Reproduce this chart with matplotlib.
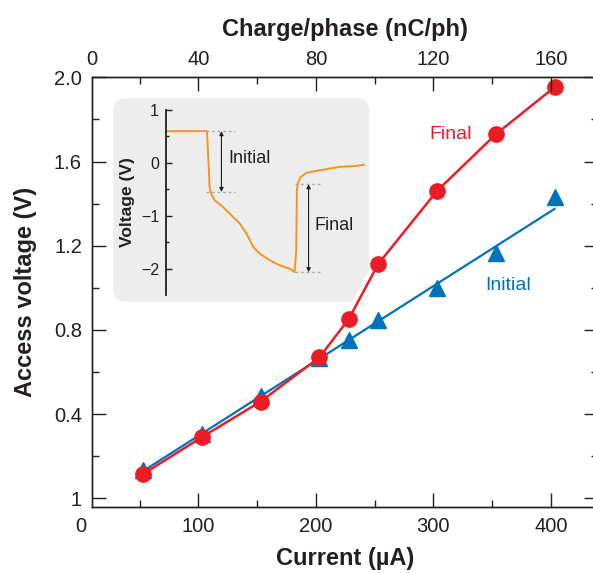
import numpy as np
import matplotlib
matplotlib.use("Agg")
import matplotlib.pyplot as plt
from matplotlib.patches import FancyBboxPatch

plt.rcParams['font.family'] = ['Liberation Sans', 'DejaVu Sans']

# main data
current = [53, 103, 153, 203, 228, 253, 303, 353, 403]
final_v = [0.116, 0.291, 0.460, 0.670, 0.852, 1.113, 1.460, 1.729, 1.953]
initial_v = [0.134, 0.306, 0.487, 0.666, 0.753, 0.848, 0.998, 1.164, 1.430]
initial_fit_x = [53, 403]
initial_fit_y = [0.13, 1.375]

yticks = [0, 0.4, 0.8, 1.2, 1.6, 2.0]
ytick_labels = ['1', '0.4', '0.8', '1.2', '1.6', '2.0']
xticks = [100, 200, 300, 400]
top_ticks = [40, 80, 120, 160]

# inset trace (arbitrary time units)
trace_t = [0, 20.67, 21.35, 22.02, 22.87, 24.57, 28.80, 33.89, 37.28, 40.68, 44.07,
           47.46, 52.54, 57.63, 62.72, 64.92, 65.77, 66.11, 66.62, 67.80, 70.35,
           72.89, 77.98, 84.76, 88.15, 94.93, 100.0]
trace_v = [0.60, 0.60, 0.114, -0.455, -0.594, -0.708, -0.834, -1.024, -1.150, -1.340,
           -1.593, -1.720, -1.846, -1.941, -2.004, -2.068, -1.657, -0.518, -0.391,
           -0.278, -0.202, -0.170, -0.139, -0.094, -0.075, -0.063, -0.037]
init_top, init_bot = 0.60, -0.55
fin_top, fin_bot = -0.404, -2.068

RED = '#ED1C24'
BLUE = '#0072BC'
ORANGE = '#F7941D'
DARK = '#231F20'

W, H = 593, 573
fig = plt.figure(figsize=(W / 100, H / 100), dpi=100)
ax = fig.add_axes([91.7 / W, (H - 507.3) / H, (598 - 91.7) / W, (507.3 - 77.3) / H])
ax.set_xlim(9.3, 440)
ax.set_ylim(-0.042, 2.0)

for s in ax.spines.values():
    s.set_color(DARK)
    s.set_linewidth(1)

ax.set_xticks(xticks)
ax.set_xticks([50, 150, 250, 350], minor=True)
ax.set_yticks(yticks)
ax.set_yticklabels(ytick_labels)
ax.set_yticks(np.arange(0.2, 2.0, 0.4), minor=True)
ax.tick_params(which='both', direction='in', colors=DARK, labelsize=14.5, right=True, width=1)
ax.tick_params(which='major', length=10, pad=7)
ax.tick_params(which='minor', length=5)
ax.annotate('0', xy=(0, 0), xycoords=('data', 'axes fraction'), xytext=(0, -7),
            textcoords='offset points', ha='center', va='top', fontsize=14.5,
            color=DARK, annotation_clip=False)

ax2 = ax.twiny()
ax2.set_xlim(9.3 * 0.4, 440 * 0.4)
ax2.set_xticks(top_ticks)
ax2.set_xticks([20, 60, 100, 140], minor=True)
ax2.tick_params(which='both', direction='in', colors=DARK, labelsize=14.5, width=1)
ax2.tick_params(which='major', length=10, pad=6)
ax2.tick_params(which='minor', length=5)
ax2.annotate('0', xy=(0, 1), xycoords='axes fraction', xytext=(0, 6),
             textcoords='offset points', ha='center', va='bottom', fontsize=14.5,
             color=DARK, annotation_clip=False)
for s in ax2.spines.values():
    s.set_color(DARK)
    s.set_linewidth(1)

ax.set_xlabel('Current (µA)', fontsize=17, fontweight='bold', color=DARK, labelpad=8)
ax.set_ylabel('Access voltage (V)', fontsize=17, fontweight='bold', color=DARK, labelpad=12)
ax2.set_xlabel('Charge/phase (nC/ph)', fontsize=17, fontweight='bold', color=DARK, labelpad=10)

# inset background
bg = FancyBboxPatch((113.3 / W, (H - 301.7) / H), (369.3 - 113.3) / W, (301.7 - 98.3) / H,
                    boxstyle='round,pad=0,rounding_size=0.022', transform=fig.transFigure,
                    facecolor='#EDEDED', edgecolor='none', zorder=1)
ax.add_artist(bg)
bg.set_zorder(1)

# data
ax.plot(initial_fit_x, initial_fit_y, color=BLUE, lw=1.6, zorder=3)
ax.plot(current, initial_v, linestyle='none', marker='^', color=BLUE, ms=12, zorder=4)
ax.plot(current[4:6], final_v[4:6], color='white', lw=7, zorder=2, solid_capstyle='butt')
ax.plot(current, final_v, color=RED, lw=1.8, marker='o', ms=11, zorder=5)

ax.text(315, 1.73, 'Final', color=RED, fontsize=14, ha='center', va='center')
ax.text(363.6, 1.009, 'Initial', color=BLUE, fontsize=14, ha='center', va='center')

# inset axes
ins = fig.add_axes([166.0 / W, (H - 295.0) / H, (365 - 166.0) / W, (295.0 - 110.0) / H])
ins.patch.set_visible(False)
ins.set_zorder(6)
ins.set_xlim(0, 100.5)
ins.set_ylim(-2.5, 1.0)
for k in ['top', 'right', 'bottom']:
    ins.spines[k].set_visible(False)
ins.spines['left'].set_color(DARK)
ins.spines['left'].set_linewidth(1.3)
ins.set_xticks([])
ins.set_yticks([1, 0, -1, -2])
ins.set_yticklabels(['1', '0', '\u22121', '\u22122'])
ins.set_yticks([0.5, -0.5, -1.5], minor=True)
ins.tick_params(which='both', direction='in', colors=DARK, labelsize=11.5, width=1)
ins.tick_params(which='major', length=4, pad=5)
ins.tick_params(which='minor', length=2.5)
ins.set_ylabel('Voltage (V)', fontsize=12.5, fontweight='bold', color=DARK, labelpad=4)

ins.plot(trace_t, trace_v, color=ORANGE, lw=1.4, clip_on=False)
dash = dict(color='#A7A9AC', lw=1, ls=(0, (2, 2)))
ins.plot([20.3, 34.7], [init_top, init_top], **dash)
ins.plot([20.3, 34.7], [init_bot, init_bot], **dash)
ins.plot([65.3, 79], [fin_top, fin_top], **dash)
ins.plot([65.3, 79], [fin_bot, fin_bot], **dash)
arr = dict(arrowstyle='<|-|>', color=DARK, lw=0.8, mutation_scale=6, shrinkA=0, shrinkB=0)
ins.annotate('', xy=(28, init_top), xytext=(28, init_bot), arrowprops=arr)
ins.annotate('', xy=(72, fin_top), xytext=(72, fin_bot), arrowprops=arr)
ins.text(31.3, 0.08, 'Initial', fontsize=13, color=DARK, ha='left', va='center')
ins.text(74.9, -1.18, 'Final', fontsize=13, color=DARK, ha='left', va='center')

fig.savefig('out.png', dpi=100)
